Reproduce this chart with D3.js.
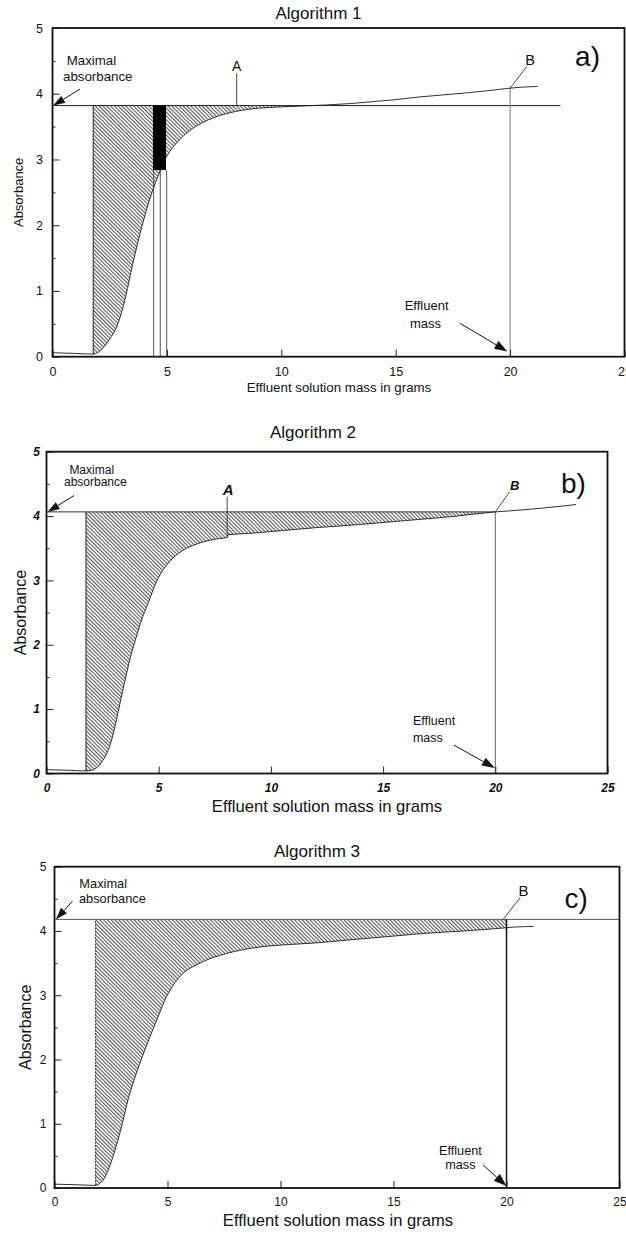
<!DOCTYPE html>
<html>
<head>
<meta charset="utf-8">
<script src="https://cdn.jsdelivr.net/npm/d3@7"></script>
<style>
  html, body { margin: 0; padding: 0; background: #fff; }
  svg { display: block; }
  text { font-family: "Liberation Sans", Arial, Helvetica, sans-serif; fill: #111; }
</style>
</head>
<body>
<svg id="chart" width="626" height="1234"></svg>
<script>
// Breakthrough curves: absorbance of the effluent against its mass (g),
// with the integration area (hatched) each algorithm uses.

// Algorithm 1 curve
const massA = [0, 1.0, 1.78, 2.0, 2.2, 2.5, 2.8, 3.0, 3.2, 3.5, 3.9, 4.3, 4.7, 5.0, 5.5, 6.0, 6.5, 7.0, 8.0, 9.0, 10, 11, 12, 13, 14, 15, 16, 17, 18, 19, 20, 20.5, 21.2];
const absA  = [0.06, 0.05, 0.04, 0.07, 0.13, 0.27, 0.45, 0.65, 0.92, 1.4, 1.97, 2.45, 2.82, 3.05, 3.28, 3.44, 3.55, 3.63, 3.73, 3.78, 3.80, 3.815, 3.83, 3.85, 3.88, 3.91, 3.95, 3.98, 4.01, 4.045, 4.085, 4.10, 4.11];

// Algorithm 2 curve
const massB = [0, 1.0, 1.76, 2.0, 2.2, 2.5, 2.75, 3.0, 3.25, 3.5, 3.75, 4.0, 4.25, 4.5, 4.9, 5.5, 6.0, 6.5, 7.0, 7.5, 8.05, 8.1, 9, 10, 12, 14, 16, 18, 20, 21, 22, 23, 23.6];
const absB  = [0.06, 0.05, 0.04, 0.05, 0.08, 0.2, 0.36, 0.65, 1.05, 1.45, 1.82, 2.12, 2.4, 2.62, 2.98, 3.3, 3.45, 3.54, 3.6, 3.64, 3.67, 3.71, 3.73, 3.76, 3.82, 3.87, 3.93, 3.99, 4.065, 4.09, 4.12, 4.155, 4.18];

// Algorithm 3 curve
const massC = [0, 1.0, 1.82, 2.0, 2.2, 2.4, 2.72, 3.0, 3.25, 3.52, 4.0, 4.52, 4.96, 5.55, 6.44, 7.62, 9.09, 10.42, 11.4, 13, 15, 15.9, 18.1, 20, 20.3, 21.2];
const absC  = [0.06, 0.05, 0.04, 0.07, 0.15, 0.3, 0.64, 1.0, 1.37, 1.68, 2.15, 2.61, 2.98, 3.29, 3.5, 3.65, 3.75, 3.79, 3.81, 3.86, 3.92, 3.95, 4.0, 4.05, 4.06, 4.07];

const titles = ["Algorithm 1", "Algorithm 2", "Algorithm 3"];
const panelTags = ["a)", "b)", "c)"];
const xTicks = [0, 5, 10, 15, 20, 25];
const yTicks = [0, 1, 2, 3, 4, 5];
const yMinorTicks = [0.5, 1.5, 2.5, 3.5, 4.5];
const maxAbsorbance = [3.82, 4.065, 4.18];
const maxLineEnd = [22.2, 20, 25];
const hatchStart = [1.78, 1.76, 1.82];
const hatchEnd = [14, 20, 20];
const effluentMass = 20;
const pointA = [8.05, 8.05, null];
// Algorithm 1: sampling window (black bar) and its sample lines
const barMass = [4.39, 4.96];
const barAbs = [2.84, 3.82];
const sampleLines = [4.42, 4.71, 4.99];

const panels = [
  { l: 52.5, t: 28, r: 624.5, b: 356.7, mass: massA, abs: absA,
    tickFont: 12.5, tickStyle: "normal", tickWeight: "normal", yPad: 9.5, xPad: 10.4,
    xLabelFont: 13.3, xLabelX: 339, xLabelY: 391.7, yLabelFont: 13, yLabelX: 23.3,
    titleX: 318.5, titleY: 18.5, noteFont: 13, abFont: 13.3,
    maxText: [[0.62, 4.44, "start"], [0.46, 4.2, "start"]], maxArrow: [[1.2, 4.07], [0.03, 3.82]],
    effText: [[16.35, 0.71], [16.3, 0.44]], effAnchor: "middle", effArrow: [[17.8, 0.51], [19.88, 0.08]],
    tag: [22.84, 4.42], B: { text: [20.87, 4.43], from: [20.72, 4.41], font: 14.5, style: "normal", weight: "normal" },
    A: { text: [8.05, 4.35], top: 4.31, font: 14, style: "normal", weight: "normal" },
    maxStroke: "#222", effLine: { stroke: "#888", w: 1.1 }, hatchDash: null },
  { l: 46.5, t: 451.7, r: 607.5, b: 773.5, mass: massB, abs: absB,
    tickFont: 12, tickStyle: "italic", tickWeight: "bold", yPad: 6.5, xPad: 10,
    xLabelFont: 16.6, xLabelX: 327, xLabelY: 811.7, yLabelFont: 16, yLabelX: 25.5,
    titleX: 313, titleY: 438, noteFont: 12.5, abFont: 12,
    maxText: [[1.02, 4.66, "start"], [0.78, 4.47, "start"]], maxArrow: [[1.23, 4.32], [0.05, 4.065]],
    effText: [[16.33, 0.75], [16.33, 0.49]], effAnchor: "start", effArrow: [[18.16, 0.44], [19.98, 0.085]],
    tag: [22.93, 4.36], B: { text: [20.86, 4.4], from: [20.64, 4.375], font: 13, style: "italic", weight: "bold" },
    A: { text: [8.1, 4.33], top: 4.3, font: 15, style: "italic", weight: "bold" },
    maxStroke: "#333", effLine: { stroke: "#666", w: 1 }, hatchDash: null },
  { l: 54.5, t: 866.7, r: 619.5, b: 1188, mass: massC, abs: absC,
    tickFont: 12, tickStyle: "normal", tickWeight: "normal", yPad: 8, xPad: 9.5,
    xLabelFont: 16.6, xLabelX: 338, xLabelY: 1225.7, yLabelFont: 16, yLabelX: 31,
    titleX: 317, titleY: 856.7, noteFont: 12.7, abFont: 12.8,
    maxText: [[1.1, 4.67, "start"], [1.08, 4.43, "start"]], maxArrow: [[0.79, 4.46], [0.06, 4.18]],
    effText: [[17.96, 0.51], [17.96, 0.3]], effAnchor: "middle", effArrow: [[18.96, 0.36], [20.0, 0.03]],
    tag: [22.57, 4.35], B: { text: [20.75, 4.54], from: [20.61, 4.52], to: [19.85, 4.18], font: 15, style: "normal", weight: "normal" },
    A: null,
    maxStroke: "#555", effLine: { stroke: "#111", w: 1.5 }, hatchDash: "2,1.2" }
];

const svg = d3.select("#chart");
const defs = svg.append("defs");

function arrow(g, p0, p1, len, half) {
  const dx = p1[0] - p0[0], dy = p1[1] - p0[1];
  const L = Math.hypot(dx, dy), ux = dx / L, uy = dy / L;
  const bx = p1[0] - ux * len, by = p1[1] - uy * len;
  g.append("line").attr("x1", p0[0]).attr("y1", p0[1]).attr("x2", bx).attr("y2", by)
    .attr("stroke", "#111").attr("stroke-width", 1);
  g.append("path")
    .attr("d", `M${p1[0]},${p1[1]}L${bx - uy * half},${by + ux * half}L${bx + uy * half},${by - ux * half}Z`)
    .attr("fill", "#111");
}

panels.forEach((P, i) => {
  const x = d3.scaleLinear().domain([0, 25]).range([P.l, P.r]);
  const y = d3.scaleLinear().domain([0, 5]).range([P.b, P.t]);
  const g = svg.append("g");
  const pts = P.mass.map((m, k) => [m, P.abs[k]]);
  const maxA = maxAbsorbance[i];
  const curveAt = m => { const k = P.mass.indexOf(m); return k >= 0 ? P.abs[k] : null; };

  // hatch pattern and clip below the maximal-absorbance line
  const pid = "hatch" + i, cid = "clip" + i;
  defs.append("pattern").attr("id", pid).attr("patternUnits", "userSpaceOnUse")
    .attr("width", 2.7).attr("height", 10).attr("patternTransform", "rotate(-45)")
    .append("line").attr("x1", 0.6).attr("y1", 0).attr("x2", 0.6).attr("y2", 10)
    .attr("stroke", "#1a1a1a").attr("stroke-width", 0.85);
  defs.append("clipPath").attr("id", cid).append("rect")
    .attr("x", P.l).attr("y", y(maxA)).attr("width", P.r - P.l).attr("height", P.b - y(maxA));

  const hatchPts = pts.filter(d => d[0] >= hatchStart[i] && d[0] <= hatchEnd[i]);
  const area = d3.area().x(d => x(d[0])).y0(y(maxA)).y1(d => y(d[1])).curve(d3.curveMonotoneX);
  g.append("path").datum(hatchPts).attr("d", area).attr("fill", `url(#${pid})`)
    .attr("clip-path", `url(#${cid})`);

  // left edge of the integration area
  g.append("line").attr("x1", x(hatchStart[i])).attr("x2", x(hatchStart[i]))
    .attr("y1", y(curveAt(hatchStart[i]))).attr("y2", y(maxA))
    .attr("stroke", "#222").attr("stroke-width", 1)
    .attr("stroke-dasharray", P.hatchDash);

  // maximal absorbance line
  g.append("line").attr("x1", x(0)).attr("x2", x(maxLineEnd[i]))
    .attr("y1", y(maxA)).attr("y2", y(maxA)).attr("stroke", P.maxStroke).attr("stroke-width", 1);

  // Algorithm 1 sampling window
  if (i === 0) {
    sampleLines.forEach(m => {
      g.append("line").attr("x1", x(m)).attr("x2", x(m)).attr("y1", y(0)).attr("y2", y(barAbs[0]))
        .attr("stroke", "#444").attr("stroke-width", 0.9);
    });
    g.append("rect").attr("x", x(barMass[0])).attr("y", y(barAbs[1]))
      .attr("width", x(barMass[1]) - x(barMass[0])).attr("height", y(barAbs[0]) - y(barAbs[1]))
      .attr("fill", "#000");
  }

  // effluent mass line
  const effTop = i === 2 ? maxA : curveAt(effluentMass);
  g.append("line").attr("x1", x(effluentMass)).attr("x2", x(effluentMass))
    .attr("y1", y(0)).attr("y2", y(effTop))
    .attr("stroke", P.effLine.stroke).attr("stroke-width", P.effLine.w);

  // breakthrough curve
  const line = d3.line().x(d => x(d[0])).y(d => y(d[1])).curve(d3.curveMonotoneX);
  g.append("path").datum(pts).attr("d", line).attr("fill", "none")
    .attr("stroke", "#1a1a1a").attr("stroke-width", 0.9);

  // axes (inward ticks)
  const styleTicks = sel => {
    sel.select(".domain").remove();
    sel.selectAll(".tick line").attr("stroke", "#222").attr("stroke-width", 1);
    sel.selectAll("text").attr("font-family", '"Liberation Sans", Arial, sans-serif')
      .attr("font-size", P.tickFont).attr("font-style", P.tickStyle)
      .attr("font-weight", P.tickWeight).attr("fill", "#111");
  };
  g.append("g").attr("transform", `translate(${P.l},0)`)
    .call(d3.axisLeft(y).tickValues(yTicks).tickSize(-7).tickPadding(P.yPad).tickFormat(d3.format("d")))
    .call(styleTicks);
  g.append("g").attr("transform", `translate(${P.l},0)`)
    .call(d3.axisLeft(y).tickValues(yMinorTicks).tickSize(-3).tickFormat(""))
    .call(styleTicks);
  g.append("g").attr("transform", `translate(0,${P.b})`)
    .call(d3.axisBottom(x).tickValues(xTicks).tickSize(-7).tickPadding(P.xPad).tickFormat(d3.format("d")))
    .call(styleTicks);

  // frame
  g.append("rect").attr("x", P.l).attr("y", P.t).attr("width", P.r - P.l).attr("height", P.b - P.t)
    .attr("fill", "none").attr("stroke", "#111").attr("stroke-width", 1.8);

  // titles and axis labels
  g.append("text").attr("x", P.titleX).attr("y", P.titleY).attr("text-anchor", "middle")
    .attr("font-size", 17).text(titles[i]);
  g.append("text").attr("x", P.xLabelX).attr("y", P.xLabelY).attr("text-anchor", "middle")
    .attr("font-size", P.xLabelFont).text("Effluent solution mass in grams");
  g.append("text").attr("transform", `translate(${P.yLabelX},${(P.t + P.b) / 2}) rotate(-90)`)
    .attr("text-anchor", "middle").attr("font-size", P.yLabelFont).text("Absorbance");

  // panel tag
  g.append("text").attr("x", x(P.tag[0])).attr("y", y(P.tag[1]))
    .attr("font-family", '"Liberation Serif", "Times New Roman", serif').attr("font-size", 28)
    .text(panelTags[i]);

  // "Maximal absorbance" note
  ["Maximal", "absorbance"].forEach((s, k) => {
    g.append("text").attr("x", x(P.maxText[k][0])).attr("y", y(P.maxText[k][1]))
      .attr("text-anchor", P.maxText[k][2]).attr("font-size", P.abFont).text(s);
  });
  arrow(g, [x(P.maxArrow[0][0]), y(P.maxArrow[0][1])], [x(P.maxArrow[1][0]), y(P.maxArrow[1][1])], 12, 4);

  // "Effluent mass" note
  ["Effluent", "mass"].forEach((s, k) => {
    g.append("text").attr("x", x(P.effText[k][0])).attr("y", y(P.effText[k][1]))
      .attr("text-anchor", P.effAnchor).attr("font-size", P.noteFont).text(s);
  });
  arrow(g, [x(P.effArrow[0][0]), y(P.effArrow[0][1])], [x(P.effArrow[1][0]), y(P.effArrow[1][1])], 13, 4.5);

  // point A
  if (P.A) {
    const base = i === 0 ? maxA : curveAt(pointA[i]);
    g.append("line").attr("x1", x(pointA[i])).attr("x2", x(pointA[i]))
      .attr("y1", y(base)).attr("y2", y(P.A.top)).attr("stroke", "#333").attr("stroke-width", 0.9);
    g.append("text").attr("x", x(P.A.text[0])).attr("y", y(P.A.text[1])).attr("text-anchor", "middle")
      .attr("font-size", P.A.font).attr("font-style", P.A.style).attr("font-weight", P.A.weight).text("A");
  }

  // point B
  const bTo = P.B.to || [effluentMass, i === 2 ? maxA : curveAt(effluentMass)];
  g.append("line").attr("x1", x(P.B.from[0])).attr("y1", y(P.B.from[1]))
    .attr("x2", x(bTo[0])).attr("y2", y(bTo[1])).attr("stroke", "#333").attr("stroke-width", 0.9);
  g.append("text").attr("x", x(P.B.text[0])).attr("y", y(P.B.text[1])).attr("text-anchor", "middle")
    .attr("font-size", P.B.font).attr("font-style", P.B.style).attr("font-weight", P.B.weight).text("B");
});
</script>
</body>
</html>
